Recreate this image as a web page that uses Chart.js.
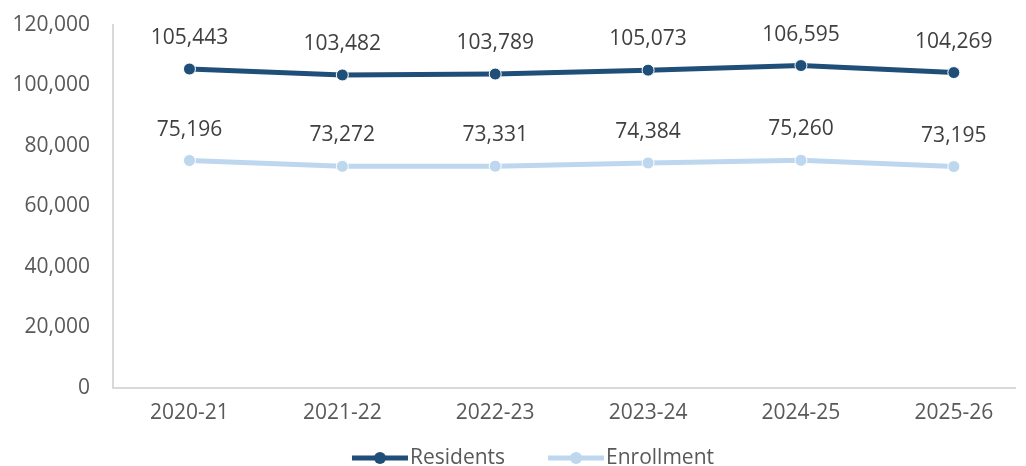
<!DOCTYPE html>
<html lang="en">
<head>
    <meta charset="UTF-8">
    <title>Residents and Enrollment</title>
    <style>
        body { margin: 0; background: #fff; }
        #wrap { width: 1026px; height: 466px; position: relative; }
    </style>
</head>
<body>
    <div id="wrap">
        <canvas id="lineChart"></canvas>
    </div>

    <script src="https://cdn.jsdelivr.net/npm/chart.js"></script>
    <script>
        // Chart data
        const years = ['2020-21', '2021-22', '2022-23', '2023-24', '2024-25', '2025-26'];
        const residents = [105443, 103482, 103789, 105073, 106595, 104269];
        const enrollment = [75196, 73272, 73331, 74384, 75260, 73195];
        const yTicks = [0, 20000, 40000, 60000, 80000, 100000, 120000];

        const darkBlue = '#1F4E79';
        const lightBlue = '#BDD7EE';
        const fontFamily = '"Open Sans", sans-serif';

        // Draws the value above each point
        const valueLabels = {
            id: 'valueLabels',
            afterDatasetsDraw(chart) {
                const ctx = chart.ctx;
                ctx.save();
                ctx.font = '21px ' + fontFamily;
                ctx.fillStyle = '#404040';
                ctx.textAlign = 'center';
                ctx.textBaseline = 'middle';
                chart.data.datasets.forEach((ds, i) => {
                    chart.getDatasetMeta(i).data.forEach((pt, j) => {
                        ctx.fillText(ds.data[j].y.toLocaleString('en-US'), pt.x, pt.y - 31);
                    });
                });
                ctx.restore();
            }
        };

        // Excel-style legend: line with a dot, then the series name
        const lineLegend = {
            id: 'lineLegend',
            afterDraw(chart) {
                const ctx = chart.ctx;
                const symW = 56, gapText = 2, gapItem = 43;
                const y = chart.height - 8;
                ctx.save();
                ctx.font = '21px ' + fontFamily;
                ctx.textBaseline = 'middle';
                ctx.textAlign = 'left';
                const items = chart.data.datasets.map(ds => ({
                    text: ds.label, color: ds.borderColor,
                    w: ctx.measureText(ds.label).width
                }));
                let total = 0;
                items.forEach((it, i) => {
                    total += symW + gapText + it.w + (i ? gapItem : 0);
                });
                let x = chart.width / 2 - total / 2 + 20;
                items.forEach(it => {
                    ctx.strokeStyle = it.color;
                    ctx.lineWidth = 5;
                    ctx.beginPath();
                    ctx.moveTo(x, y);
                    ctx.lineTo(x + symW, y);
                    ctx.stroke();
                    ctx.fillStyle = it.color;
                    ctx.beginPath();
                    ctx.arc(x + symW / 2, y, 6, 0, Math.PI * 2);
                    ctx.fill();
                    x += symW + gapText;
                    ctx.fillStyle = '#595959';
                    ctx.fillText(it.text, x, y);
                    x += it.w + gapItem;
                });
                ctx.restore();
            }
        };

        const toPoints = arr => arr.map((v, i) => ({ x: i, y: v }));

        new Chart(document.getElementById('lineChart'), {
            type: 'line',
            data: {
                datasets: [{
                    label: 'Residents',
                    data: toPoints(residents),
                    borderColor: darkBlue,
                    backgroundColor: darkBlue,
                    borderWidth: 5,
                    pointRadius: 6,
                    pointBorderColor: '#fff',
                    pointBorderWidth: 1,
                    tension: 0
                }, {
                    label: 'Enrollment',
                    data: toPoints(enrollment),
                    borderColor: lightBlue,
                    backgroundColor: lightBlue,
                    borderWidth: 5,
                    pointRadius: 6,
                    pointBorderColor: '#fff',
                    pointBorderWidth: 1,
                    tension: 0
                }]
            },
            options: {
                responsive: true,
                maintainAspectRatio: false,
                animation: false,
                layout: { padding: { top: 25, right: 11, left: 0, bottom: 38 } },
                plugins: {
                    tooltip: { enabled: false },
                    legend: { display: false }
                },
                scales: {
                    x: {
                        type: 'linear',
                        min: -0.5,
                        max: 5.4,
                        afterBuildTicks(scale) {
                            scale.ticks = years.map((y, i) => ({ value: i }));
                        },
                        afterFit(scale) {
                            scale.height = 40;
                            scale.paddingLeft = 0;
                            scale.paddingRight = 0;
                        },
                        grid: { display: false, drawTicks: false },
                        border: { color: '#D9D9D9', width: 2 },
                        ticks: {
                            padding: 12,
                            color: '#595959',
                            font: { family: fontFamily, size: 21 },
                            callback: v => years[v]
                        }
                    },
                    y: {
                        min: 0,
                        max: 120000,
                        afterBuildTicks(scale) {
                            scale.ticks = yTicks.map(v => ({ value: v }));
                        },
                        afterFit(scale) {
                            scale.width = 113;
                            scale.paddingTop = 0;
                            scale.paddingBottom = 0;
                        },
                        grid: { display: false, drawTicks: false },
                        border: { color: '#D9D9D9', width: 2 },
                        ticks: {
                            padding: 23,
                            color: '#595959',
                            font: { family: fontFamily, size: 21 },
                            callback: v => v.toLocaleString('en-US')
                        }
                    }
                }
            },
            plugins: [valueLabels, lineLegend]
        });
    </script>
</body>
</html>
